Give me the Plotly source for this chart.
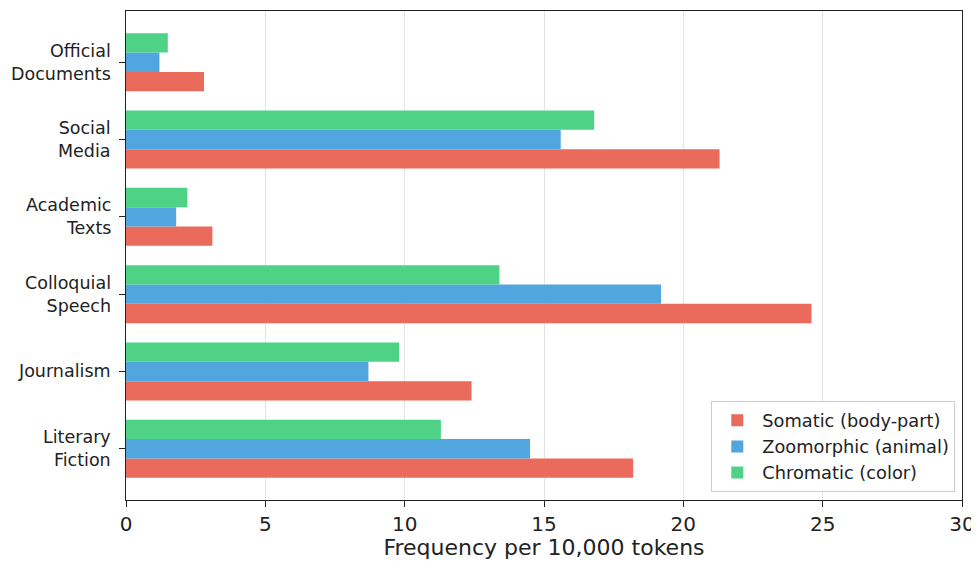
import plotly.graph_objects as go

categories = ["Literary<br>Fiction", "Journalism", "Colloquial<br>Speech", "Academic<br>Texts", "Social<br>Media", "Official<br>Documents"]
somatic = [18.2, 12.4, 24.6, 3.1, 21.3, 2.8]
zoomorphic = [14.5, 8.7, 19.2, 1.8, 15.6, 1.2]
chromatic = [11.3, 9.8, 13.4, 2.2, 16.8, 1.5]
series_names = ["Somatic (body-part)", "Zoomorphic (animal)", "Chromatic (color)"]
colors = ["#ea6a5b", "#52a6e0", "#4dd286"]
x_ticks = [0, 5, 10, 15, 20, 25, 30]

pos = list(range(len(categories)))
fig = go.Figure()
for name, vals, c in zip(series_names, [somatic, zoomorphic, chromatic], colors):
    fig.add_trace(go.Bar(y=pos, x=vals, name=name, orientation="h",
                         marker=dict(color=c, line=dict(width=0))))

# right-aligned multi-line category labels
for p, lab in zip(pos, categories):
    fig.add_annotation(xref="paper", yref="y", x=0, y=p, text=lab, showarrow=False,
                       xanchor="right", yanchor="middle", align="right", xshift=-13,
                       font=dict(size=17.5, color="#222"))

font = "DejaVu Sans, sans-serif"
fig.update_layout(
    width=971, height=552,
    margin=dict(l=118, r=17, t=3, b=60, autoexpand=False),
    barmode="group", bargap=0.25, bargroupgap=0,
    plot_bgcolor="white", paper_bgcolor="white",
    font=dict(family=font, size=15, color="#222"),
    showlegend=True,
    legend=dict(x=0.992, y=0.016, xanchor="right", yanchor="bottom",
                bgcolor="rgba(255,255,255,0.9)", bordercolor="#cccccc", borderwidth=1,
                font=dict(size=17.8), traceorder="normal", itemwidth=40),
    xaxis=dict(range=[0, 30], tickvals=x_ticks, showgrid=True, gridcolor="#e3e3e3",
               ticks="outside", ticklen=6, tickcolor="#222", tickfont=dict(size=20),
               showline=True, linecolor="#222", mirror=True, zeroline=False, automargin=False,
               title=dict(text="Frequency per 10,000 tokens", font=dict(size=22), standoff=6)),
    yaxis=dict(range=[-0.6625, 5.6625], tickvals=pos, ticktext=[""] * len(pos),
               showgrid=False, ticks="outside", ticklen=6, tickcolor="#222",
               tickfont=dict(size=16), automargin=False,
               showline=True, linecolor="#222", mirror=True, zeroline=False),
)
fig.write_html("out.html")
